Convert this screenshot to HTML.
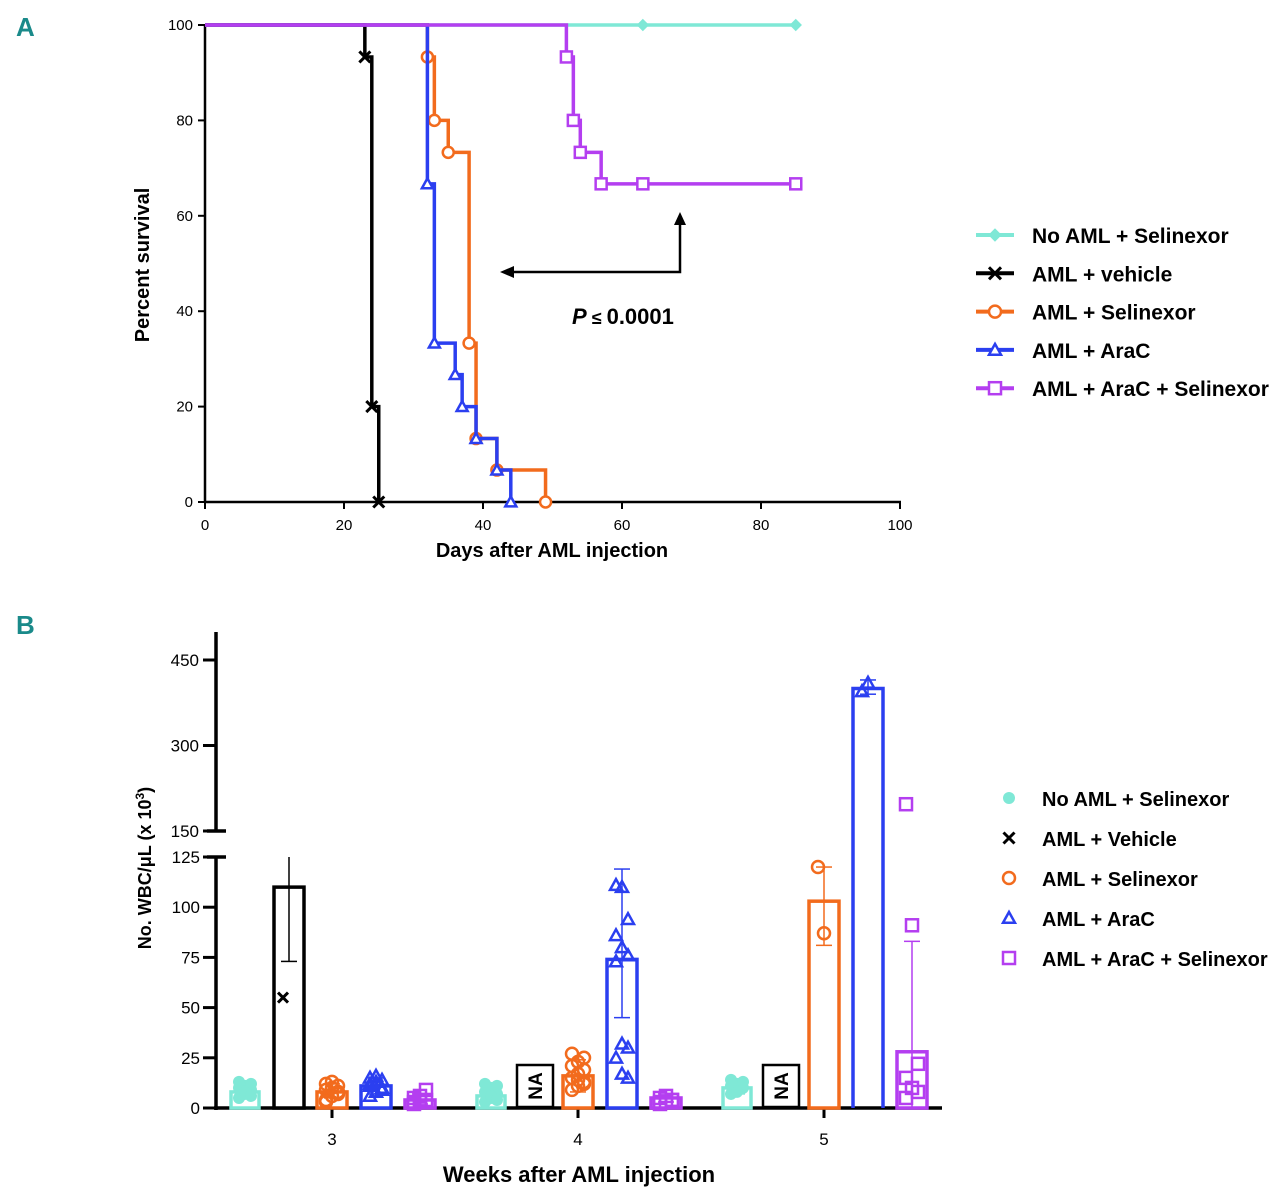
<!DOCTYPE html>
<html><head><meta charset="utf-8"><style>
body{margin:0;background:#fff;width:1280px;height:1191px;overflow:hidden}
svg text{font-family:"Liberation Sans",sans-serif}
</style></head><body>
<svg id="svg" width="1280" height="1191" viewBox="0 0 1280 1191" xmlns="http://www.w3.org/2000/svg">
<text x="16" y="36" font-size="26" font-weight="bold" fill="#1a8a8a">A</text>
<text x="16" y="634" font-size="26" font-weight="bold" fill="#1a8a8a">B</text>
<g id="gA"></g>
<g id="gB"></g>
</svg>
<script>
// ---------- Panel A data ----------
const survNames = ["No AML + Selinexor","AML + vehicle","AML + Selinexor","AML + AraC","AML + AraC + Selinexor"];
const survColors = ["#7fe8d6","#000000","#f26b1d","#2b3ff0","#b43ef0"];
const survMarkers = ["diamond","x","circle","triangle","square"];
const tealDays = [0,63,85];      const tealPct = [100,100,100];
const blackDays = [0,23,24,25];  const blackPct = [100,93.3,20,0];
const orangeDays = [0,32,33,35,38,39,42,49]; const orangePct = [100,93.3,80,73.3,33.3,13.3,6.7,0];
const blueDays = [0,32,33,36,37,39,42,44];   const bluePct = [100,66.7,33.3,26.7,20,13.3,6.7,0];
const purpleDays = [0,52,53,54,57,63,85];    const purplePct = [100,93.3,80,73.3,66.7,66.7,66.7];
const xTicksA = [0,20,40,60,80,100];
const yTicksA = [0,20,40,60,80,100];

// ---------- Panel B data ----------
const weeks = [3,4,5];
const groupNames = ["No AML + Selinexor","AML + Vehicle","AML + Selinexor","AML + AraC","AML + AraC + Selinexor"];
const means = [[8,110,8,11,4],[6,null,16,74,5],[10,null,103,400,28]];
const errLo = [[5,73,5,7,2],[3,null,8,45,3],[7,null,81,390,0]];
const errHi = [[12,125,12,15,7],[10,null,24,119,7],[13,null,120,415,83]];
const points = [
 [[5,7,9,10,11,12,13,8,6],[55],[4,6,8,9,10,11,12,13,7,3],[6,8,10,12,13,14,15,16,9,11],[2,3,4,5,6,9,3,4]],
 [[3,5,7,8,10,11,12,6,4],[],[9,11,13,15,17,19,21,23,25,27,14,12],[111,110,94,86,80,76,73,32,30,25,17,15],[2,3,4,5,6,4,3]],
 [[7,9,10,11,12,13,14,8],[],[120,87],[395,410],[197,91,22,15,10,8,5]]];
const yTicksLow = [0,25,50,75,100,125];
const yTicksHigh = [150,300,450];

const NS="http://www.w3.org/2000/svg";
function mk(tag,attrs,parent){const e=document.createElementNS(NS,tag);for(const k in attrs)e.setAttribute(k,attrs[k]);parent.appendChild(e);return e;}
function marker(type,cx,cy,s,color,parent,fill){
  let e;
  if(type==="diamond"){e=mk("path",{d:`M${cx},${cy-s}L${cx+s},${cy}L${cx},${cy+s}L${cx-s},${cy}Z`,fill:color,stroke:color,"stroke-width":1},parent);}
  else if(type==="x"){e=mk("path",{d:`M${cx-s},${cy-s}L${cx+s},${cy+s}M${cx+s},${cy-s}L${cx-s},${cy+s}`,stroke:color,"stroke-width":3,fill:"none"},parent);}
  else if(type==="circle"){e=mk("circle",{cx:cx,cy:cy,r:s,fill:fill||"#fff",stroke:color,"stroke-width":2.5},parent);}
  else if(type==="dot"){e=mk("circle",{cx:cx,cy:cy,r:s,fill:color,stroke:"none"},parent);}
  else if(type==="triangle"){e=mk("path",{d:`M${cx},${cy-s}L${cx+s},${cy+s*0.8}L${cx-s},${cy+s*0.8}Z`,fill:fill||"#fff",stroke:color,"stroke-width":2.5},parent);}
  else {e=mk("rect",{x:cx-s,y:cy-s,width:2*s,height:2*s,fill:fill||"#fff",stroke:color,"stroke-width":2.5},parent);}
  return e;
}
function txt(x,y,s,size,parent,opts){const e=mk("text",Object.assign({x:x,y:y,"font-size":size},opts||{}),parent);e.textContent=s;return e;}

// ---------- Panel A ----------
const gA=document.getElementById("gA");
const xA=d=>205+d*6.95, yA=p=>502-p*4.77;
mk("line",{x1:205,y1:25,x2:205,y2:503,stroke:"#000","stroke-width":2.5},gA);
mk("line",{x1:204,y1:502,x2:901,y2:502,stroke:"#000","stroke-width":2.5},gA);
yTicksA.forEach(v=>{mk("line",{x1:198,y1:yA(v),x2:205,y2:yA(v),stroke:"#000","stroke-width":2},gA);
  const t=txt(193,yA(v)+5,String(v),15,gA,{"text-anchor":"end"});});
xTicksA.forEach(v=>{mk("line",{x1:xA(v),y1:502,x2:xA(v),y2:509,stroke:"#000","stroke-width":2},gA);
  const t=txt(xA(v),530,String(v),15,gA,{"text-anchor":"middle"});});
const at=txt(552,557,"Days after AML injection",20,gA,{"text-anchor":"middle","font-weight":"bold"});

const ayt=txt(0,0,"Percent survival",20,gA,{"text-anchor":"middle","font-weight":"bold",transform:"translate(149,265) rotate(-90)"});


const survDays=[tealDays,blackDays,orangeDays,blueDays,purpleDays];
const survPct=[tealPct,blackPct,orangePct,bluePct,purplePct];
[0,1,2,3,4].forEach(i=>{
  const g=mk("g",{},gA);
  
  
  const D=survDays[i],P=survPct[i];
  let d=`M${xA(D[0])},${yA(P[0])}`;
  for(let k=1;k<D.length;k++){d+=`L${xA(D[k])},${yA(P[k-1])}L${xA(D[k])},${yA(P[k])}`;}
  mk("path",{d:d,fill:"none",stroke:survColors[i],"stroke-width":3.5},g);
  for(let k=1;k<D.length;k++){const m=marker(survMarkers[i],xA(D[k]),yA(P[k]),5.5,survColors[i],g);
    
    }
});
mk("path",{d:"M680,224L680,272L512,272",fill:"none",stroke:"#000","stroke-width":2.5},gA);
mk("path",{d:"M500,272L514,266L514,278Z",fill:"#000"},gA);
mk("path",{d:"M680,212L674,225L686,225Z",fill:"#000"},gA);
const pv=mk("text",{x:572,y:324,"font-size":22,"font-weight":"bold"},gA);
pv.innerHTML='<tspan font-style="italic">P</tspan><tspan font-size="18"> ≤ </tspan>0.0001';


survNames.forEach((n,i)=>{
  const y=235+i*38.3;
  const g=mk("g",{},gA);
  
  
  mk("line",{x1:976,y1:y,x2:1014,y2:y,stroke:survColors[i],"stroke-width":4},g);
  marker(survMarkers[i],995,y,6,survColors[i],g);
  txt(1032,y+8,n,21,g,{"font-weight":"bold"});
});

// ---------- Panel B ----------
const gB=document.getElementById("gB");
const yLow=v=>1108-v*2.008;
const yHigh=v=>831-(v-150)*0.57;
const yB=v=>v<=137?yLow(v):yHigh(v);
const weekX=w=>332+(w-3)*246;
const offsets=[-87,-43,0,44,88];
const colorsB=["#7fe8d6","#000000","#f26b1d","#2b3ff0","#b43ef0"];
const markB=["dot","x","circle","triangle","square"];
const AX=216;
mk("line",{x1:AX,y1:632,x2:AX,y2:831,stroke:"#000","stroke-width":3.5},gB);
mk("line",{x1:AX,y1:857,x2:AX,y2:1110,stroke:"#000","stroke-width":3.5},gB);
mk("line",{x1:207,y1:831,x2:226,y2:831,stroke:"#000","stroke-width":3.5},gB);
mk("line",{x1:207,y1:857,x2:226,y2:857,stroke:"#000","stroke-width":3.5},gB);
mk("line",{x1:AX-2,y1:1108,x2:942,y2:1108,stroke:"#000","stroke-width":3.5},gB);
yTicksLow.forEach(v=>{mk("line",{x1:203,y1:yLow(v),x2:AX,y2:yLow(v),stroke:"#000","stroke-width":3},gB);
  const t=txt(200,yLow(v)+6,String(v),17,gB,{"text-anchor":"end"});});
yTicksHigh.forEach(v=>{mk("line",{x1:203,y1:yHigh(v),x2:AX,y2:yHigh(v),stroke:"#000","stroke-width":3},gB);
  const t=txt(199,yHigh(v)+6,String(v),17,gB,{"text-anchor":"end"});});
weeks.forEach(w=>{mk("line",{x1:weekX(w),y1:1108,x2:weekX(w),y2:1118,stroke:"#000","stroke-width":3},gB);
  const t=txt(weekX(w),1145,String(w),17,gB,{"text-anchor":"middle"});});
const bx=txt(579,1182,"Weeks after AML injection",22,gB,{"text-anchor":"middle","font-weight":"bold"});

const by=mk("text",{transform:"translate(151,868) rotate(-90)","text-anchor":"middle","font-size":18,"font-weight":"bold"},gB);
by.innerHTML='No. WBC/μL (x 10<tspan font-size="12" dy="-7">3</tspan><tspan dy="7">)</tspan>';



weeks.forEach((w,wi)=>{
  for(let gi=0;gi<5;gi++){
    const cx=weekX(w)+offsets[gi];
    const col=colorsB[gi];
    const g=mk("g",{},gB);
    
    
    const m=means[wi][gi];
    if(m===null){
      mk("rect",{x:cx-18,y:1065,width:36,height:42,fill:"#fff",stroke:"#000","stroke-width":2.5},g);
      txt(0,0,"NA",19,g,{"font-weight":"bold","text-anchor":"middle",transform:`translate(${cx+7},${1086}) rotate(-90)`});
      continue;
    }
    const bw=(gi===0)?28:30;
    if(m>137){
      mk("path",{d:`M${cx-bw/2},1108L${cx-bw/2},${yLow(125)-26}M${cx+bw/2},1108L${cx+bw/2},${yLow(125)-26}`,stroke:col,"stroke-width":3.5,fill:"none"},g);
      mk("path",{d:`M${cx-bw/2},${yHigh(150)}L${cx-bw/2},${yHigh(m)}L${cx+bw/2},${yHigh(m)}L${cx+bw/2},${yHigh(150)}`,stroke:col,"stroke-width":3.5,fill:"none"},g);
    } else {
      mk("rect",{x:cx-bw/2,y:yB(m),width:bw,height:1108-yB(m),fill:"#fff",stroke:col,"stroke-width":3.5},g);
    }
    const lo=errLo[wi][gi],hi=errHi[wi][gi];
    mk("line",{x1:cx,y1:yB(lo),x2:cx,y2:yB(hi),stroke:col,"stroke-width":1.5},g);
    if(gi!==1) mk("line",{x1:cx-8,y1:yB(hi),x2:cx+8,y2:yB(hi),stroke:col,"stroke-width":1.5},g);
    mk("line",{x1:cx-8,y1:yB(lo),x2:cx+8,y2:yB(lo),stroke:col,"stroke-width":1.5},g);
    points[wi][gi].forEach((v,k)=>{
      const dx=((k%3)-1)*6;
      const pm=marker(markB[gi],cx+dx,yB(v),gi===1?5:6,col,g,"none");
      
      
    });
  }
});
groupNames.forEach((n,i)=>{
  const y=798+i*40;
  const g=mk("g",{},gB);
  
  
  marker(markB[i],1009,y,markB[i]==="x"?5.5:6,colorsB[i],g,"none");
  txt(1042,y+8,n,20,g,{"font-weight":"bold"});
});
</script>
</body></html>
